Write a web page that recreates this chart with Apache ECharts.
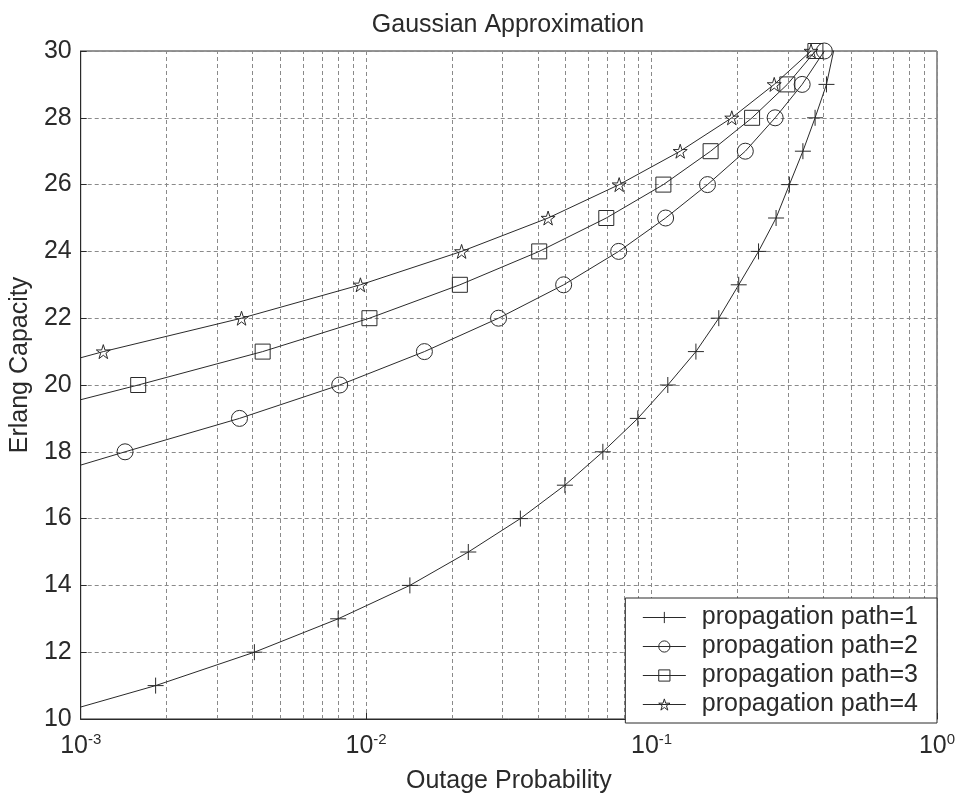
<!DOCTYPE html>
<html>
<head>
<meta charset="utf-8">
<script src="https://cdn.jsdelivr.net/npm/echarts@6/dist/echarts.min.js"></script>
<style>
  html, body { margin: 0; padding: 0; background: #fff; }
  #chart { width: 960px; height: 799px; }
</style>
</head>
<body>
<div id="chart"></div>
<script>
// values: erlang capacity (y) vs outage probability (x)
const names = ['propagation path=1', 'propagation path=2', 'propagation path=3', 'propagation path=4'];

const cap1 = [10, 11, 12, 13, 14, 15, 16, 17, 18, 19, 20, 21, 22, 23, 24, 25, 26, 27, 28, 29, 31];
const out1 = [0.000713, 0.00183, 0.00406, 0.00798, 0.01423, 0.0228, 0.0347, 0.0497, 0.0675, 0.0895,
  0.114, 0.143, 0.172, 0.202, 0.237, 0.273, 0.304, 0.339, 0.374, 0.41, 0.46];

const cap2 = [17, 18, 19, 20, 21, 22, 23, 24, 25, 26, 27, 28, 29, 30];
const out2 = [0.000582, 0.00143, 0.0036, 0.00808, 0.016, 0.0291, 0.0492, 0.0767, 0.112, 0.157,
  0.213, 0.271, 0.337, 0.403];

const cap3 = [19, 20, 21, 22, 23, 24, 25, 26, 27, 28, 29, 30];
const out3 = [0.000555, 0.00159, 0.00434, 0.01027, 0.0213, 0.0404, 0.0694, 0.110, 0.161, 0.225,
  0.299, 0.375];

const cap4 = [20, 21, 22, 23, 24, 25, 26, 27, 28, 29, 30];
const out4 = [0.000447, 0.0012, 0.00366, 0.00955, 0.0216, 0.0434, 0.077, 0.126, 0.191, 0.269, 0.362];

// minor log grid positions (2..9 in each decade)
const decades = [0.001, 0.01, 0.1];
const minorX = [];
decades.forEach(d => {
  for (let k = 2; k <= 9; k++) minorX.push(+(d * k).toPrecision(3));
});
const yRange = [10, 30];

const FONT = '"Liberation Sans", Arial, Helvetica, sans-serif';
const INK = '#2a2a2a';
const GRIDC = '#8a8a8a';

const plusPath = 'path://M0,-10L0,10M-10,0L10,0';
const starPath = 'path://M0,-10L2.245,-3.09L9.511,-3.09L3.633,1.18L5.878,8.09L0,3.82L-5.878,8.09L-3.633,1.18L-9.511,-3.09L-2.245,-3.09Z';

const pairs = (xs, ys) => xs.map((x, i) => [x, ys[i]]);

const makeSeries = (name, xs, ys, symbol, size) => ({
  name: name,
  type: 'line',
  z: 3,
  data: pairs(xs, ys),
  symbol: symbol,
  symbolSize: size,
  showAllSymbol: true,
  clip: true,
  lineStyle: { color: INK, width: 1 },
  itemStyle: { color: 'rgba(0,0,0,0)', borderColor: INK, borderWidth: 1 },
  emphasis: { disabled: true },
  animation: false
});

const series = [
  {
    name: 'minor grid',
    type: 'lines',
    coordinateSystem: 'cartesian2d',
    z: 1,
    silent: true,
    animation: false,
    lineStyle: { color: GRIDC, width: 1, type: [4, 3], opacity: 1 },
    data: minorX.map(v => ({ coords: [[v, yRange[0]], [v, yRange[1]]] }))
  },
  makeSeries(names[0], out1, cap1, plusPath, 16),
  makeSeries(names[1], out2, cap2, 'circle', 16),
  makeSeries(names[2], out3, cap3, 'rect', 15),
  makeSeries(names[3], out4, cap4, starPath, 14)
];

const chart = echarts.init(document.getElementById('chart'), null, { renderer: 'canvas' });

chart.setOption({
  backgroundColor: '#fff',
  animation: false,
  textStyle: { fontFamily: FONT },
  title: {
    text: 'Gaussian Approximation',
    left: 508,
    textAlign: 'center',
    top: 13,
    padding: 0,
    textStyle: { fontSize: 25, fontWeight: 'normal', color: INK, fontFamily: FONT }
  },
  grid: {
    left: 80, right: 23, top: 51, bottom: 76,
    show: true, borderColor: INK, borderWidth: 1, backgroundColor: 'transparent'
  },
  legend: {
    data: names,
    orient: 'vertical',
    right: 23,
    bottom: 76,
    z: 10,
    backgroundColor: '#fff',
    borderColor: INK,
    borderWidth: 1,
    borderRadius: 0,
    padding: [7, 19, 6, 17],
    itemWidth: 43,
    itemHeight: 14,
    itemGap: 4,
    itemStyle: { color: 'rgba(0,0,0,0)', borderColor: INK, borderWidth: 1 },
    lineStyle: { color: INK, width: 1 },
    textStyle: { fontSize: 25, lineHeight: 25, color: INK, fontFamily: FONT, padding: [0, 0, 0, 11] }
  },
  xAxis: {
    type: 'log',
    logBase: 10,
    min: 0.001,
    max: 1,
    name: 'Outage Probability',
    nameLocation: 'middle',
    nameGap: 50,
    nameTextStyle: { fontSize: 25, color: INK, fontFamily: FONT },
    axisLine: { lineStyle: { color: INK } },
    axisTick: { inside: true, length: 6, lineStyle: { color: INK } },
    axisLabel: {
      margin: 13,
      showMinLabel: true,
      showMaxLabel: true,
      formatter: v => '{b|10}{s|' + Math.round(Math.log10(v)) + '}',
      rich: {
        b: { fontSize: 25, lineHeight: 28, color: INK, fontFamily: FONT },
        s: { fontSize: 15, lineHeight: 15, verticalAlign: 'top', color: INK, fontFamily: FONT }
      }
    },
    splitLine: { show: true, lineStyle: { color: GRIDC, width: 1, type: [4, 3] } }
  },
  yAxis: {
    type: 'value',
    min: yRange[0],
    max: yRange[1],
    interval: 2,
    name: 'Erlang Capacity',
    nameLocation: 'middle',
    nameGap: 44,
    nameTextStyle: { fontSize: 25, color: INK, fontFamily: FONT, padding: [0, 0, 0, 40] },
    axisLine: { show: true, lineStyle: { color: INK } },
    axisTick: { inside: true, length: 6, lineStyle: { color: INK } },
    axisLabel: { fontSize: 25, color: INK, margin: 9, fontFamily: FONT },
    splitLine: { show: true, lineStyle: { color: GRIDC, width: 1, type: [4, 3] } }
  },
  series: series
});
</script>
</body>
</html>
